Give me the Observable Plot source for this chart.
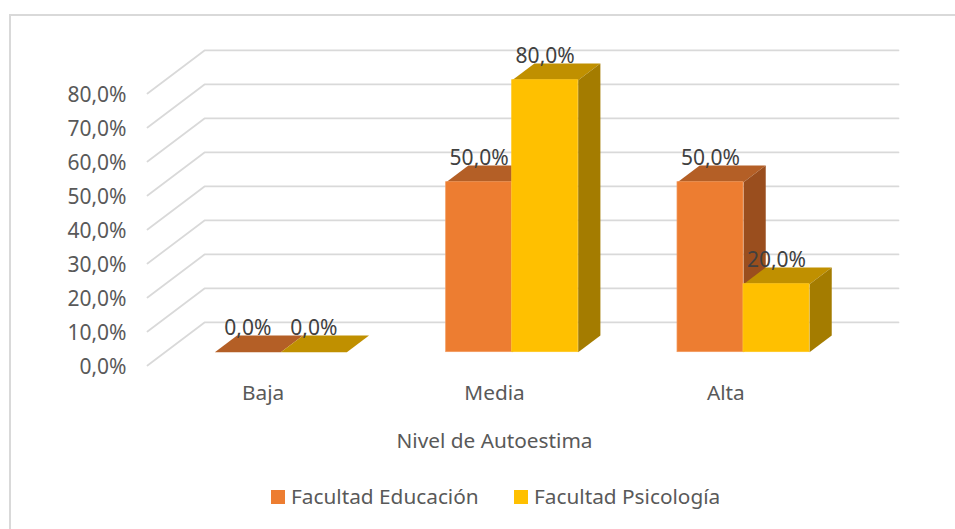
<!DOCTYPE html>
<html>
<head>
<meta charset="utf-8">
<script src="https://cdn.jsdelivr.net/npm/d3@7"></script>
<script src="https://cdn.jsdelivr.net/npm/@observablehq/plot@0.6"></script>
<style>
html,body{margin:0;padding:0;background:#fff;overflow:hidden;}
#page{position:relative;width:955px;height:529px;overflow:hidden;font-family:"Noto Sans",sans-serif;}
#frame{position:absolute;left:9px;top:14px;width:960px;height:530px;border-left:2px solid #d9d9d9;border-top:2px solid #d9d9d9;}
#chart{position:absolute;left:0;top:0;}
#legend{position:absolute;left:271px;top:483px;display:flex;font-size:20.8px;color:#595959;line-height:27px;white-space:nowrap;}
#legend span.item{display:flex;align-items:center;position:absolute;top:0;}
#legend i{display:inline-block;width:14px;height:14px;margin-right:6px;}
</style>
</head>
<body>
<div id="page"><div id="frame"></div><div id="chart"></div><div id="legend"></div></div>
<script>
const categories = ["Baja", "Media", "Alta"];
const educacion = [0, 50, 50];
const psicologia = [0, 80, 20];
const seriesNames = ["Facultad Educación", "Facultad Psicología"];
const yTicks = [0, 10, 20, 30, 40, 50, 60, 70, 80];
const xTitle = "Nivel de Autoestima";

// 3-D projection, in data units
const depthX = 0.2464, depthY = 12.65;
const barPlane = 0.31, barBack = 0.70, barWidth = 0.2853;
const palette = [
  {front: "#ed7d31", top: "#b45f26", side: "#9a4e1e", edge: "#f29a5e"},
  {front: "#ffc000", top: "#c09000", side: "#a47c00", edge: "#ffc71f"}
];
const fmt = d => d.toFixed(1).replace(".", ",") + "%";

const bars = [educacion, psicologia].flatMap((vals, s) =>
  vals.map((v, i) => {
    const x2mid = i + 0.5 + barPlane * depthX;
    const x1 = s === 0 ? x2mid - barWidth : x2mid;
    const x2 = x1 + barWidth;
    const y0 = barPlane * depthY;
    return {s, i, v, x1, x2, y0, y1: v + y0};
  })
);
const dz = (barBack - barPlane);
const topFace = b => [
  [b.x1, b.y1], [b.x2, b.y1],
  [b.x2 + dz * depthX, b.y1 + dz * depthY], [b.x1 + dz * depthX, b.y1 + dz * depthY]
].map(([x, y]) => ({x, y, id: `${b.s}-${b.i}`}));
const sideFace = b => [
  [b.x2, b.y0], [b.x2, b.y1],
  [b.x2 + dz * depthX, b.y1 + dz * depthY], [b.x2 + dz * depthX, b.y0 + dz * depthY]
].map(([x, y]) => ({x, y, id: `${b.s}-${b.i}`}));

const grid = yTicks.flatMap(t => [
  {x: 0, y: t, t},
  {x: depthX, y: t + depthY, t},
  {x: categories.length + depthX, y: t + depthY, t}
]);

const seriesMarks = s => {
  const rows = bars.filter(b => b.s === s);
  return [
    Plot.line(rows.flatMap(topFace), {x: "x", y: "y", z: "id", fill: palette[s].top, stroke: "none"}),
    Plot.line(rows.flatMap(sideFace), {x: "x", y: "y", z: "id", fill: palette[s].side, stroke: "none"}),
    Plot.rect(rows.filter(b => b.v > 0), {x1: "x1", x2: "x2", y1: "y0", y2: "y1", fill: palette[s].front, stroke: palette[s].edge, strokeWidth: 0.75})
  ];
};

const plot = Plot.plot({
  width: 955,
  height: 470,
  marginTop: 93,
  marginBottom: 105,
  marginLeft: 147,
  marginRight: 114,
  x: {domain: [0, categories.length]},
  y: {domain: [0, 80]},
  style: {fontFamily: '"Noto Sans", sans-serif', fontSize: "21px", background: "transparent", overflow: "visible"},
  marks: [
    Plot.line(grid, {x: "x", y: "y", z: "t", stroke: "#d9d9d9", strokeWidth: 1.75}),
    Plot.axisY({ticks: yTicks, tickFormat: fmt, tickSize: 0, tickPadding: 21, label: null, color: "#595959", fontSize: 21, dy: 1.5}),
    Plot.axisX({ticks: categories.map((c, i) => i + 0.5), tickFormat: d => categories[d - 0.5], tickSize: 0, tickPadding: 20, label: xTitle, labelAnchor: "center", labelArrow: "none", labelOffset: 82, color: "#595959", fontSize: 20.8}),
    ...seriesMarks(0),
    ...seriesMarks(1),
    Plot.text(bars, {x: b => (b.x1 + b.x2) / 2, y: "y1", text: b => fmt(b.v), dy: -24, fill: "#404040", fontSize: 21})
  ]
});
document.getElementById("chart").append(plot);

const legend = document.getElementById("legend");
seriesNames.forEach((n, s) => {
  const el = document.createElement("span");
  el.className = "item";
  el.style.left = (s === 0 ? 0 : 243) + "px";
  el.innerHTML = `<i style="background:${palette[s].front}"></i>${n}`;
  legend.append(el);
});
</script>
</body>
</html>
